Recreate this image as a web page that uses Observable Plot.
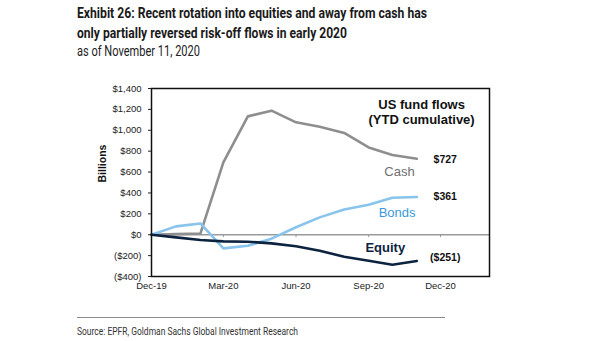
<!DOCTYPE html>
<html>
<head>
<meta charset="utf-8">
<script src="https://cdn.jsdelivr.net/npm/d3@7"></script>
<script src="https://cdn.jsdelivr.net/npm/@observablehq/plot@0.6"></script>
<style>
  html, body { margin: 0; padding: 0; background: #fff; }
  #wrap { position: relative; width: 605px; height: 341px; overflow: hidden; background: #fff; }
  .t { position: absolute; left: 77px; white-space: nowrap; transform-origin: 0 0; font-family: Roboto, "Liberation Sans", sans-serif; }
  #t1, #t2 { font-size: 15.5px; line-height: 15px; font-weight: 700; color: #1a1a1a; }
  #t1 { top: 6px; }
  #t2 { top: 25.5px; }
  #sub { top: 44px; font-size: 14px; line-height: 14px; color: #222; }
  #rule { position: absolute; left: 77px; top: 317px; width: 368px; height: 0; border-top: 1px solid #8a8a8a; }
  #src { top: 326px; font-size: 11px; line-height: 11px; color: #333; }
  #chart { position: absolute; left: 0; top: 70px; }
</style>
</head>
<body>
<div id="wrap">
  <div class="t" id="t1" data-w="350">Exhibit 26: Recent rotation into equities and away from cash has</div>
  <div class="t" id="t2" data-w="270">only partially reversed risk-off flows in early 2020</div>
  <div class="t" id="sub" data-w="123">as of November 11, 2020</div>
  <div id="chart"></div>
  <div id="rule"></div>
  <div class="t" id="src" data-w="221">Source: EPFR, Goldman Sachs Global Investment Research</div>
</div>
<script>
// ---- data (US$ billions, YTD cumulative, month-end) ----
const months = ["2019-12","2020-01","2020-02","2020-03","2020-04","2020-05","2020-06","2020-07","2020-08","2020-09","2020-10","2020-11"];
const cash   = [0, 6, 12, 692, 1133, 1188, 1076, 1034, 974, 836, 763, 727];
const bonds  = [0, 80, 108, -131, -105, -38, 72, 166, 242, 287, 354, 361];
const equity = [0, -25, -51, -64, -67, -83, -110, -153, -211, -249, -287, -251];
const yTicks = [-400, -200, 0, 200, 400, 600, 800, 1000, 1200, 1400];
const xTickMonths = ["2019-12","2020-03","2020-06","2020-09","2020-12"];
const xDomainMonths = ["2019-12","2021-02"];
// annotation labels (text, date, value)
const annText  = ["US fund flows", "(YTD cumulative)", "$727", "Cash", "$361", "Bonds", "Equity", "($251)"];
const annDate  = ["2020-11-07", "2020-11-07", "2020-12-07", "2020-10-10", "2020-12-07", "2020-10-07", "2020-09-22", "2020-12-07"];
const annValue = [1242, 1101, 715, 606, 367, 208, -122, -217];
const annStyle = ["head", "head", "val", "cash", "val", "bonds", "equity", "val"];

const pm = s => { const [y, m] = s.split("-").map(Number); return new Date(Date.UTC(y, m - 1, 1)); };
const pd = s => { const [y, m, d] = s.split("-").map(Number); return new Date(Date.UTC(y, m - 1, d)); };

const series = [
  {name: "Cash", vals: cash, color: "#8e8e8e"},
  {name: "Bonds", vals: bonds, color: "#88c4ec"},
  {name: "Equity", vals: equity, color: "#0c2340"}
];
const rows = series.flatMap(s => months.map((m, i) => ({series: s.name, date: pm(m), value: s.vals[i]})));
const xTicks = xTickMonths.map(pm);
const ann = annText.map((t, i) => ({text: t, date: pd(annDate[i]), value: annValue[i], style: annStyle[i]}));

const fmtY = v => v < 0 ? `($${d3.format(",")(-v)})` : `$${d3.format(",")(v)}`;
const annColor = {head: "#111", val: "#111", cash: "#6e6e6e", bonds: "#3a9ad9", equity: "#0c2340"};
const annSize = {head: 13, val: 10.5, cash: 13, bonds: 13, equity: 13};
const annWeight = {head: "bold", val: "bold", cash: "normal", bonds: "normal", equity: "bold"};

const plot = Plot.plot({
  width: 605,
  height: 230,
  marginLeft: 151,
  marginRight: 116,
  marginTop: 18,
  marginBottom: 24,
  style: {fontFamily: "'Liberation Sans', Arial, sans-serif", background: "white"},
  x: {type: "utc", domain: xDomainMonths.map(pm)},
  y: {domain: [-400, 1400]},
  color: {domain: series.map(s => s.name), range: series.map(s => s.color)},
  marks: [
    Plot.ruleY([0], {stroke: "#9a9a9a", strokeWidth: 1.6}),
    Plot.ruleX(xTicks.slice(1), {x: d => d, y1: 0, y2: -28, stroke: "#9a9a9a", strokeWidth: 1}),
    Plot.line(rows, {x: "date", y: "value", z: "series", stroke: "series", strokeWidth: 2.6, curve: "linear"}),
    Plot.frame({stroke: "#111", strokeWidth: 1.5}),
    Plot.axisY({ticks: yTicks, tickFormat: fmtY, tickSize: 3, tickPadding: 7, fontSize: 9.5, label: null, color: "#222"}),
    Plot.axisX({ticks: xTicks, tickFormat: d3.utcFormat("%b-%y"), tickSize: 0, tickPadding: 6, fontSize: 9.5, label: null, color: "#222"}),
    Plot.text(["Billions"], {frameAnchor: "left", rotate: -90, dx: -49, fontWeight: "bold", fontSize: 10.5, fill: "#111"}),
    ...["head", "val", "cash", "bonds", "equity"].map(st =>
      Plot.text(ann.filter(a => a.style === st), {
        x: "date", y: "value", text: "text",
        fill: annColor[st], fontSize: annSize[st], fontWeight: annWeight[st], textAnchor: "middle"
      }))
  ]
});
document.getElementById("chart").appendChild(plot);

// fit condensed title / source lines to measured widths
document.querySelectorAll(".t").forEach(el => {
  const w = el.getBoundingClientRect().width;
  const target = +el.dataset.w;
  if (w > 0) el.style.transform = `scaleX(${target / w})`;
});
</script>
</body>
</html>
